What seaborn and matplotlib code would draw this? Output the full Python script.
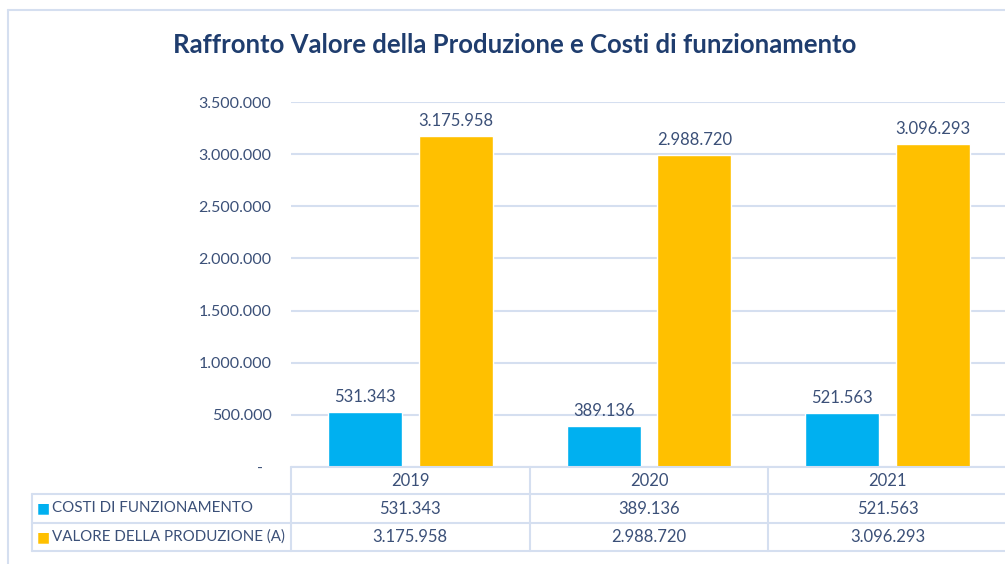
import pandas as pd
import seaborn as sns
import matplotlib.pyplot as plt
from matplotlib.transforms import blended_transform_factory
from matplotlib.ticker import FuncFormatter

# --- dati ---
anni = ["2019", "2020", "2021"]
serie = ["COSTI DI FUNZIONAMENTO", "VALORE DELLA PRODUZIONE (A)"]
costi = [531343, 389136, 521563]
valore = [3175958, 2988720, 3096293]
y_ticks = [0, 500000, 1000000, 1500000, 2000000, 2500000, 3000000, 3500000]
colori = ["#00B0F0", "#FFC000"]

TXT = "#3B5078"
TITLE = "#1F3D6E"
LINE = "#D5DFF0"
W, H = 1005, 564


def fmt_it(v, pos=None):
    if v == 0:
        return "-  "
    return f"{int(v):,}".replace(",", ".")


def X(px):
    return px / W


def Y(py):
    return 1 - py / H


df = pd.DataFrame({
    "anno": anni * 2,
    "serie": [serie[0]] * 3 + [serie[1]] * 3,
    "valore": costi + valore,
})

sns.set_theme(style="white")
plt.rcParams["font.family"] = ["Lato", "DejaVu Sans"]

fig = plt.figure(figsize=(W / 100, H / 100), dpi=100)
ax = fig.add_axes([X(291), Y(467), X(1007) - X(291), (467 - 102) / H])

sns.barplot(data=df, x="anno", y="valore", hue="serie", hue_order=serie,
            order=anni, palette=colori, width=0.76, gap=0.187,
            saturation=1, legend=False, ax=ax)

ax.set_xlim(-0.5, 2.5)
ax.set_ylim(0, 3500000)
ax.set_yticks(y_ticks)
ax.yaxis.set_major_formatter(FuncFormatter(fmt_it))
ax.tick_params(axis="y", length=0, pad=14, labelsize=11.5, labelcolor=TXT)
ax.set_xticks([])
ax.set_xlabel("")
ax.set_ylabel("")
for s in ax.spines.values():
    s.set_visible(False)
ax.yaxis.grid(True, color=LINE, lw=1.5)
ax.set_axisbelow(True)

for cont in ax.containers:
    ax.bar_label(cont, labels=[fmt_it(b.get_height()) for b in cont],
                 padding=5, fontsize=12, color=TXT)

# titolo
fig.text(X(515), Y(45), "Raffronto Valore della Produzione e Costi di funzionamento",
         ha="center", va="center", fontsize=18.5, fontweight="bold", color=TITLE)

# cornice esterna
fig.add_artist(plt.Line2D([X(8), X(1005)], [Y(10), Y(10)], color=LINE, lw=1.5))
fig.add_artist(plt.Line2D([X(8), X(8)], [Y(10), Y(564)], color=LINE, lw=1.5))

# tabella dati
tr = blended_transform_factory(ax.transData, fig.transFigure)
righe_y = [467, 494, 523, 551]
fig.add_artist(plt.Line2D([X(291), X(1005)], [Y(467), Y(467)], color=LINE, lw=1.5))
for py in righe_y[1:]:
    fig.add_artist(plt.Line2D([X(32), X(1005)], [Y(py), Y(py)], color=LINE, lw=1.5))
fig.add_artist(plt.Line2D([X(32), X(32)], [Y(494), Y(551)], color=LINE, lw=1.5))
for i in range(len(anni) + 1):
    ax.plot([i - 0.5, i - 0.5], [Y(467), Y(551)], transform=tr, color=LINE,
            lw=1.5, clip_on=False)

for i, a in enumerate(anni):
    ax.text(i, Y(481), a, transform=tr, ha="center", va="center",
            fontsize=12, color=TXT)
for r, (nome, vals, col) in enumerate(zip(serie, [costi, valore], colori)):
    yc = Y((righe_y[r + 1] + righe_y[r + 2]) / 2)
    fig.text(X(37), yc, "■", ha="left", va="center", fontsize=10, color=col,
             family="DejaVu Sans")
    fig.text(X(52), yc, nome, ha="left", va="center", fontsize=10.9, color=TXT)
    for i, v in enumerate(vals):
        ax.text(i, yc, fmt_it(v), transform=tr, ha="center", va="center",
                fontsize=12, color=TXT)

fig.savefig("out.png", dpi=100)
